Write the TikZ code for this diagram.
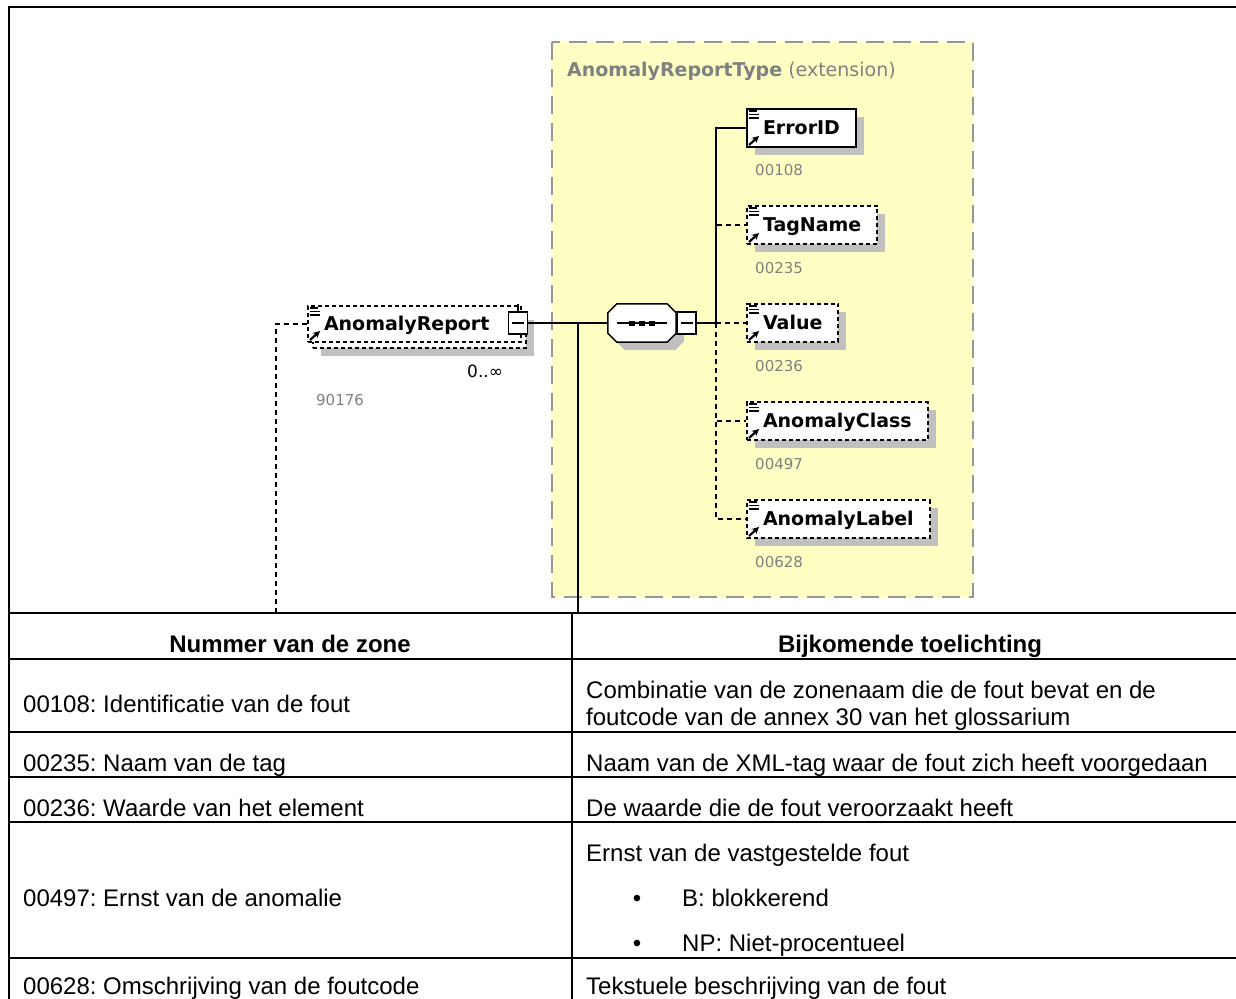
\documentclass[tikz,border=0pt]{standalone}
\usepackage{fontspec}
\setmainfont{Liberation Sans}
\newfontfamily\xsdfont{DejaVu Sans}
\usetikzlibrary{arrows.meta,shadows}
\frenchspacing

\definecolor{typeyellow}{RGB}{255,255,196}
\definecolor{typeborder}{RGB}{150,150,150}
\definecolor{shadowgray}{RGB}{192,192,192}
\definecolor{idgray}{RGB}{128,128,128}

\tikzset{
  elbox/.style={draw, line width=2pt, fill=white, inner xsep=16pt, minimum height=38pt,
    text height=13.9pt, text depth=0pt, font=\xsdfont\fontsize{19}{22}\selectfont\bfseries},
  optional/.style={dash pattern=on 4pt off 3pt},
  xsdshadow/.style={drop shadow={shadow xshift=8pt, shadow yshift=-8pt, fill=shadowgray, opacity=1}},
  idlabel/.style={anchor=base west, inner sep=0pt, text=idgray, font=\xsdfont\fontsize{15}{18}\selectfont},
  minusbtn/.style={draw, line width=1.5pt, fill=white, minimum width=19pt, minimum height=22pt, inner sep=0pt},
  link/.style={line width=1.5pt},
  optlink/.style={link, dash pattern=on 5pt off 4pt},
  cell/.style={anchor=base west, inner sep=0pt, font=\fontsize{24}{27}\selectfont},
  cellhead/.style={anchor=base, inner sep=0pt, font=\fontsize{24}{27}\selectfont\bfseries},
  tableline/.style={line width=2pt}
}

\newcommand\xsdicons[1]{%
  \draw[line width=1.4pt] (#1.north west) ++(3,3) -- ++(8,0)
    (#1.north west) ++(3,6.5) -- ++(10,0)
    (#1.north west) ++(3,10) -- ++(10,0);
  \draw[line width=2.2pt, -{Stealth[length=7pt,width=7pt]}] (#1.south west) ++(3,-3) -- ++(10,-9);
}
\newcommand\minusmark[1]{%
  \draw[line width=1.5pt] ([xshift=-6pt]#1.center) -- ([xshift=6pt]#1.center);
}

\begin{document}
\begin{tikzpicture}[x=1pt, y=-1pt]
  \useasboundingbox (0,0) rectangle (1236,998);

  \draw[line width=2.5pt] (1245,7) -- (9,7) -- (9,1005);

  \draw[typeborder, fill=typeyellow, line width=2pt, dash pattern=on 18pt off 9pt]
    (552,42) rectangle (973,597);
  \node[anchor=base west, inner sep=0pt, text=idgray, font=\xsdfont\fontsize{19}{22}\selectfont]
    (typeTitle) at (567,76) {\textbf{AnomalyReportType} (extension)};

  \node[elbox, optional, xsdshadow, anchor=north west, minimum width=213pt, minimum height=36pt] (arBack) at (312,311) {};
  \node[elbox, optional, anchor=north west, minimum width=213pt, minimum height=36pt,
    text width=181pt, align=left] (anomalyReport) at (307,305) {AnomalyReport};
  \xsdicons{anomalyReport}
  \node[minusbtn] (arMinus) at (518,323) {};
  \minusmark{arMinus}
  \draw[line width=1.5pt] (arMinus.north) -- ++(0,-7);
  \node[anchor=base west, inner sep=0pt, font=\xsdfont\fontsize{17}{20}\selectfont] (arOccurs) at (467,377) {0..∞};
  \node[idlabel] (arId) at (316,405.5) {90176};

  \node[minimum width=68pt, minimum height=38pt, inner sep=0pt] (seq) at (642,323) {};
  \draw[line width=1.5pt, fill=white, xsdshadow]
    ([xshift=9pt]seq.north west) -- ([xshift=-9pt]seq.north east)
    -- ([yshift=-9pt]seq.north east) -- ([yshift=9pt]seq.south east)
    -- ([xshift=-9pt]seq.south east) -- ([xshift=9pt]seq.south west)
    -- ([yshift=9pt]seq.south west) -- ([yshift=-9pt]seq.north west) -- cycle;
  \draw[line width=1.5pt] ([xshift=-25pt]seq.center) -- ([xshift=25pt]seq.center);
  \foreach \dx in {-10,0,10}
    \fill ([xshift=\dx pt]seq.center) +(-3,-2.5) rectangle +(3,2.5);
  \node[minusbtn] (seqMinus) at (686.5,323) {};
  \minusmark{seqMinus}

  \node[elbox, xsdshadow, anchor=west] (errorID) at (746,128) {ErrorID};
  \node[elbox, optional, xsdshadow, anchor=west] (tagName) at (746,225) {TagName};
  \node[elbox, optional, xsdshadow, anchor=west] (value) at (746,323) {Value};
  \node[elbox, optional, xsdshadow, anchor=west] (anomalyClass) at (746,421) {AnomalyClass};
  \node[elbox, optional, xsdshadow, anchor=west] (anomalyLabel) at (746,519) {AnomalyLabel};
  \foreach \el in {errorID,tagName,value,anomalyClass,anomalyLabel}{
    \xsdicons{\el}
  }

  \node[idlabel] (errorIDno) at (755,175.5) {00108};
  \node[idlabel] (tagNameno) at (755,273.5) {00235};
  \node[idlabel] (valueno) at (755,371.5) {00236};
  \node[idlabel] (anomalyClassno) at (755,469.5) {00497};
  \node[idlabel] (anomalyLabelno) at (755,567.5) {00628};

  \coordinate (bus) at (716,323);
  \coordinate (typeDown) at (578,613);
  \coordinate (rootDown) at (276,613);
  \draw[link] (arMinus.east) -- (seq.west);
  \draw[link] (typeDown |- seq.west) -- (typeDown);
  \draw[optlink, line width=2pt] (rootDown) |- (anomalyReport.west);
  \draw[link] (seqMinus.east) -- (bus) |- (errorID.west);
  \draw[optlink] (bus) |- (tagName.west);
  \draw[optlink] (bus) -- (value.west);
  \draw[optlink] (bus) |- (anomalyClass.west);
  \draw[optlink] (bus) |- (anomalyLabel.west);

  \foreach \y in {613,659,732,777,822,958}
    \draw[tableline] (9,\y) -- (1245,\y);
  \draw[tableline] (572,613) -- (572,1005);

  \node[cellhead] (headZone) at (290,652.5) {Nummer van de zone};
  \node[cellhead] (headNote) at (910,652.5) {Bijkomende toelichting};

  \node[cell] (zone1) at (23,712.5) {00108: Identificatie van de fout};
  \node[cell] (note1a) at (586,698.5) {Combinatie van de zonenaam die de fout bevat en de};
  \node[cell] (note1b) at (586,725.5) {foutcode van de annex 30 van het glossarium};
  \node[cell] (zone2) at (23,771.5) {00235: Naam van de tag};
  \node[cell] (note2) at (586,771.5) {Naam van de XML-tag waar de fout zich heeft voorgedaan};
  \node[cell] (zone3) at (23,816.5) {00236: Waarde van het element};
  \node[cell] (note3) at (586,816.5) {De waarde die de fout veroorzaakt heeft};
  \node[cell] (zone4) at (23,906.5) {00497: Ernst van de anomalie};
  \node[cell] (note4) at (586,861.5) {Ernst van de vastgestelde fout};
  \node[cellhead] (bulletB) at (637,906.5) {\mdseries •};
  \node[cell] (note4b) at (682,906.5) {B: blokkerend};
  \node[cellhead] (bulletNP) at (637,951.5) {\mdseries •};
  \node[cell] (note4np) at (682,951.5) {NP: Niet-procentueel};
  \node[cell] (zone5) at (23,994.5) {00628: Omschrijving van de foutcode};
  \node[cell] (note5) at (586,994.5) {Tekstuele beschrijving van de fout};
\end{tikzpicture}
\end{document}
